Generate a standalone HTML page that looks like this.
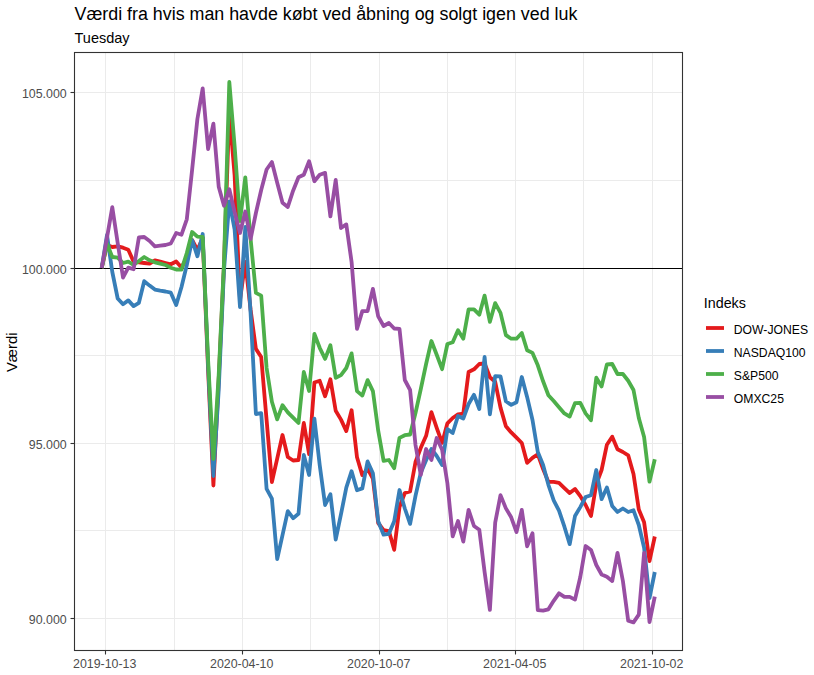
<!DOCTYPE html>
<html><head><meta charset="utf-8"><style>
html,body{margin:0;padding:0;background:#fff;width:814px;height:675px;overflow:hidden}
svg{display:block;font-family:"Liberation Sans",sans-serif}
</style></head><body>
<svg width="814" height="675" viewBox="0 0 814 675"><rect x="0" y="0" width="814" height="675" fill="#fff"/><line x1="74" x2="683" y1="180.5" y2="180.5" stroke="#EBEBEB" stroke-width="1" shape-rendering="crispEdges"/><line x1="74" x2="683" y1="355.5" y2="355.5" stroke="#EBEBEB" stroke-width="1" shape-rendering="crispEdges"/><line x1="74" x2="683" y1="530.5" y2="530.5" stroke="#EBEBEB" stroke-width="1" shape-rendering="crispEdges"/><line x1="174.5" x2="174.5" y1="52" y2="651" stroke="#EBEBEB" stroke-width="1" shape-rendering="crispEdges"/><line x1="310.5" x2="310.5" y1="52" y2="651" stroke="#EBEBEB" stroke-width="1" shape-rendering="crispEdges"/><line x1="447.5" x2="447.5" y1="52" y2="651" stroke="#EBEBEB" stroke-width="1" shape-rendering="crispEdges"/><line x1="583.5" x2="583.5" y1="52" y2="651" stroke="#EBEBEB" stroke-width="1" shape-rendering="crispEdges"/><line x1="74" x2="683" y1="92.5" y2="92.5" stroke="#EBEBEB" stroke-width="1" shape-rendering="crispEdges"/><line x1="74" x2="683" y1="268.5" y2="268.5" stroke="#EBEBEB" stroke-width="1" shape-rendering="crispEdges"/><line x1="74" x2="683" y1="443.5" y2="443.5" stroke="#EBEBEB" stroke-width="1" shape-rendering="crispEdges"/><line x1="74" x2="683" y1="618.5" y2="618.5" stroke="#EBEBEB" stroke-width="1" shape-rendering="crispEdges"/><line x1="105.5" x2="105.5" y1="52" y2="651" stroke="#EBEBEB" stroke-width="1" shape-rendering="crispEdges"/><line x1="242.5" x2="242.5" y1="52" y2="651" stroke="#EBEBEB" stroke-width="1" shape-rendering="crispEdges"/><line x1="379.5" x2="379.5" y1="52" y2="651" stroke="#EBEBEB" stroke-width="1" shape-rendering="crispEdges"/><line x1="515.5" x2="515.5" y1="52" y2="651" stroke="#EBEBEB" stroke-width="1" shape-rendering="crispEdges"/><line x1="652.5" x2="652.5" y1="52" y2="651" stroke="#EBEBEB" stroke-width="1" shape-rendering="crispEdges"/><line x1="74" x2="683" y1="268.5" y2="268.5" stroke="#000" stroke-width="1.1"/><polyline fill="none" stroke="#E41A1C" stroke-width="3.8" stroke-linejoin="round" stroke-linecap="butt" points="101.7,268.0 107.0,245.0 112.3,247.0 117.7,246.3 123.0,247.7 128.3,249.7 133.6,261.7 138.9,262.3 144.2,263.0 149.6,263.7 154.9,260.3 160.2,261.7 165.5,263.0 170.8,264.3 176.2,261.5 181.5,267.5 186.8,258.0 192.1,240.0 197.4,250.0 202.7,238.0 208.1,370.0 213.4,485.5 218.7,380.0 224.0,265.0 229.3,112.0 234.6,175.0 240.0,300.0 245.3,262.0 250.6,309.8 255.9,348.9 261.2,357.0 266.6,420.0 271.9,482.0 277.2,458.6 282.5,435.0 287.8,457.0 293.1,460.5 298.5,460.0 303.8,423.0 309.1,454.1 314.4,382.5 319.7,380.8 325.1,396.3 330.4,379.3 335.7,410.7 341.0,419.6 346.3,431.1 351.6,410.3 357.0,457.3 362.3,475.1 367.6,468.9 372.9,478.7 378.2,523.0 383.6,530.2 388.9,531.1 394.2,549.8 399.5,507.0 404.8,493.0 410.1,491.5 415.5,462.0 420.8,447.8 426.1,435.8 431.4,412.2 436.7,427.8 442.1,442.9 447.4,423.3 452.7,418.0 458.0,414.4 463.3,413.6 468.6,372.0 474.0,369.3 479.3,364.0 484.6,363.5 489.9,377.3 495.2,381.8 500.5,407.6 505.9,426.2 511.2,432.4 516.5,437.6 521.8,443.0 527.1,462.8 532.5,457.9 537.8,454.3 543.1,469.0 548.4,481.9 553.7,481.9 559.0,482.8 564.4,488.1 569.7,493.1 575.0,489.0 580.3,496.1 585.6,505.0 591.0,516.0 596.3,484.0 601.6,470.0 606.9,444.7 612.2,436.7 617.5,449.3 622.9,452.0 628.2,455.3 633.5,474.0 638.8,509.5 644.1,522.3 649.5,561.0 654.8,536.5"/><polyline fill="none" stroke="#377EB8" stroke-width="3.8" stroke-linejoin="round" stroke-linecap="butt" points="101.7,268.0 107.0,235.0 112.3,272.0 117.7,298.5 123.0,304.3 128.3,300.4 133.6,306.1 138.9,302.8 144.2,281.2 149.6,285.6 154.9,289.6 160.2,290.7 165.5,291.5 170.8,292.7 176.2,305.0 181.5,287.0 186.8,265.0 192.1,240.0 197.4,256.3 202.7,234.0 208.1,365.0 213.4,476.0 218.7,390.0 224.0,270.0 229.3,201.5 234.6,229.3 240.0,307.0 245.3,226.8 250.6,313.3 255.9,414.0 261.2,413.2 266.6,488.8 271.9,498.7 277.2,559.1 282.5,535.1 287.8,511.1 293.1,518.2 298.5,513.8 303.8,455.0 309.1,475.0 314.4,418.6 319.7,465.0 325.1,505.0 330.4,494.3 335.7,539.5 341.0,514.2 346.3,487.6 351.6,471.2 357.0,490.2 362.3,488.4 367.6,461.4 372.9,473.3 378.2,521.3 383.6,534.7 388.9,533.8 394.2,521.3 399.5,490.0 404.8,508.5 410.1,523.9 415.5,495.8 420.8,472.7 426.1,460.2 431.4,449.0 436.7,456.0 442.1,465.0 447.4,429.1 452.7,433.0 458.0,416.0 463.3,418.5 468.6,404.0 474.0,394.8 479.3,409.0 484.6,356.9 489.9,414.3 495.2,376.1 500.5,376.4 505.9,401.3 511.2,404.9 516.5,402.2 521.8,377.0 527.1,396.9 532.5,420.0 537.8,452.0 543.1,465.0 548.4,484.8 553.7,500.3 559.0,510.7 564.4,526.7 569.7,544.1 575.0,516.0 580.3,507.1 585.6,497.0 591.0,495.2 596.3,470.0 601.6,499.2 606.9,487.5 612.2,506.0 617.5,512.0 622.9,508.5 628.2,512.0 633.5,510.3 638.8,525.0 644.1,547.7 649.5,598.0 654.8,572.0"/><polyline fill="none" stroke="#4DAF4A" stroke-width="3.8" stroke-linejoin="round" stroke-linecap="butt" points="101.7,268.0 107.0,243.7 112.3,257.0 117.7,257.7 123.0,263.0 128.3,261.7 133.6,265.0 138.9,261.0 144.2,257.0 149.6,260.3 154.9,262.3 160.2,263.7 165.5,265.0 170.8,267.7 176.2,269.5 181.5,269.7 186.8,253.0 192.1,232.0 197.4,236.7 202.7,237.0 208.1,360.0 213.4,459.0 218.7,375.0 224.0,262.0 229.3,82.0 234.6,146.0 240.0,221.0 245.3,177.3 250.6,239.0 255.9,292.9 261.2,295.6 266.6,368.0 271.9,401.7 277.2,419.4 282.5,405.2 287.8,412.3 293.1,417.7 298.5,423.0 303.8,372.0 309.1,391.0 314.4,334.0 319.7,347.8 325.1,358.9 330.4,345.2 335.7,377.8 341.0,375.1 346.3,368.0 351.6,353.4 357.0,391.1 362.3,395.6 367.6,380.1 372.9,391.1 378.2,430.7 383.6,460.9 388.9,460.0 394.2,468.2 399.5,437.9 404.8,435.2 410.1,434.5 415.5,413.0 420.8,389.0 426.1,364.0 431.4,341.0 436.7,354.7 442.1,369.2 447.4,344.0 452.7,342.2 458.0,330.3 463.3,338.7 468.6,309.3 474.0,309.3 479.3,314.7 484.6,295.6 489.9,321.8 495.2,303.1 500.5,312.9 505.9,335.1 511.2,338.7 516.5,338.7 521.8,333.0 527.1,350.2 532.5,352.9 537.8,365.3 543.1,381.3 548.4,395.2 553.7,401.0 559.0,407.2 564.4,413.4 569.7,416.6 575.0,403.1 580.3,402.8 585.6,413.4 591.0,420.2 596.3,377.7 601.6,386.4 606.9,364.4 612.2,364.0 617.5,374.0 622.9,374.0 628.2,380.7 633.5,390.0 638.8,418.0 644.1,437.0 649.5,481.7 654.8,459.3"/><polyline fill="none" stroke="#984EA3" stroke-width="3.8" stroke-linejoin="round" stroke-linecap="butt" points="101.7,268.0 107.0,237.7 112.3,207.2 117.7,243.0 123.0,277.5 128.3,267.7 133.6,269.2 138.9,237.4 144.2,237.0 149.6,241.0 154.9,246.3 160.2,245.7 165.5,245.0 170.8,243.5 176.2,233.0 181.5,234.7 186.8,219.3 192.1,170.0 197.4,119.0 202.7,88.3 208.1,149.0 213.4,123.7 218.7,186.7 224.0,205.7 229.3,189.2 234.6,212.0 240.0,233.0 245.3,211.5 250.6,239.0 255.9,213.0 261.2,190.0 266.6,169.5 271.9,162.0 277.2,182.7 282.5,202.7 287.8,207.0 293.1,190.7 298.5,177.3 303.8,174.7 309.1,161.3 314.4,181.2 319.7,174.7 325.1,172.9 330.4,216.4 335.7,180.0 341.0,228.0 346.3,224.4 351.6,262.0 357.0,328.9 362.3,311.1 367.6,311.1 372.9,288.9 378.2,316.4 383.6,326.0 388.9,323.0 394.2,328.5 399.5,328.9 404.8,380.0 410.1,390.0 415.5,445.0 420.8,474.8 426.1,449.0 431.4,460.0 436.7,438.0 442.1,449.6 447.4,483.3 452.7,536.3 458.0,521.0 463.3,541.6 468.6,509.8 474.0,526.0 479.3,529.7 484.6,572.0 489.9,609.9 495.2,522.7 500.5,495.1 505.9,508.4 511.2,517.3 516.5,532.1 521.8,509.9 527.1,546.3 532.5,533.3 537.8,610.2 543.1,610.6 548.4,609.3 553.7,600.8 559.0,593.3 564.4,596.9 569.7,596.9 575.0,599.6 580.3,577.0 585.6,546.0 591.0,550.0 596.3,565.0 601.6,574.5 606.9,576.7 612.2,581.1 617.5,552.8 622.9,581.0 628.2,620.7 633.5,622.4 638.8,614.7 644.1,553.0 649.5,622.0 654.8,596.7"/><rect x="74.5" y="52.5" width="608" height="598" fill="none" stroke="#333" stroke-width="1.1"/><line x1="70.5" x2="74" y1="92.5" y2="92.5" stroke="#333" stroke-width="1.1"/><text x="66.7" y="97.5" text-anchor="end" fill="#4D4D4D" font-size="12.4">105.000</text><line x1="70.5" x2="74" y1="268.5" y2="268.5" stroke="#333" stroke-width="1.1"/><text x="66.7" y="273.5" text-anchor="end" fill="#4D4D4D" font-size="12.4">100.000</text><line x1="70.5" x2="74" y1="443.5" y2="443.5" stroke="#333" stroke-width="1.1"/><text x="66.7" y="448.5" text-anchor="end" fill="#4D4D4D" font-size="12.4">95.000</text><line x1="70.5" x2="74" y1="618.5" y2="618.5" stroke="#333" stroke-width="1.1"/><text x="66.7" y="623.5" text-anchor="end" fill="#4D4D4D" font-size="12.4">90.000</text><line x1="105.5" x2="105.5" y1="651" y2="654.5" stroke="#333" stroke-width="1.1"/><text x="104.7" y="667.6" text-anchor="middle" fill="#4D4D4D" font-size="12.4">2019-10-13</text><line x1="242.5" x2="242.5" y1="651" y2="654.5" stroke="#333" stroke-width="1.1"/><text x="241.7" y="667.6" text-anchor="middle" fill="#4D4D4D" font-size="12.4">2020-04-10</text><line x1="379.5" x2="379.5" y1="651" y2="654.5" stroke="#333" stroke-width="1.1"/><text x="378.7" y="667.6" text-anchor="middle" fill="#4D4D4D" font-size="12.4">2020-10-07</text><line x1="515.5" x2="515.5" y1="651" y2="654.5" stroke="#333" stroke-width="1.1"/><text x="514.7" y="667.6" text-anchor="middle" fill="#4D4D4D" font-size="12.4">2021-04-05</text><line x1="652.5" x2="652.5" y1="651" y2="654.5" stroke="#333" stroke-width="1.1"/><text x="651.7" y="667.6" text-anchor="middle" fill="#4D4D4D" font-size="12.4">2021-10-02</text><text x="74.5" y="19.7" fill="#000" font-size="17.85">Værdi fra hvis man havde købt ved åbning og solgt igen ved luk</text><text x="74.5" y="42.8" fill="#000" font-size="14.5">Tuesday</text><text transform="translate(17.3,352.3) rotate(-90)" text-anchor="middle" fill="#000" font-size="14.8">Værdi</text><text x="703.8" y="307.7" fill="#000" font-size="14.3">Indeks</text><line x1="706" x2="724" y1="328" y2="328" stroke="#E41A1C" stroke-width="3.8"/><text x="733.8" y="333.7" fill="#000" font-size="12.2">DOW-JONES</text><line x1="706" x2="724" y1="351" y2="351" stroke="#377EB8" stroke-width="3.8"/><text x="733.8" y="356.7" fill="#000" font-size="12.2">NASDAQ100</text><line x1="706" x2="724" y1="374" y2="374" stroke="#4DAF4A" stroke-width="3.8"/><text x="733.8" y="379.7" fill="#000" font-size="12.2">S&amp;P500</text><line x1="706" x2="724" y1="397" y2="397" stroke="#984EA3" stroke-width="3.8"/><text x="733.8" y="402.7" fill="#000" font-size="12.2">OMXC25</text></svg>
</body></html>
